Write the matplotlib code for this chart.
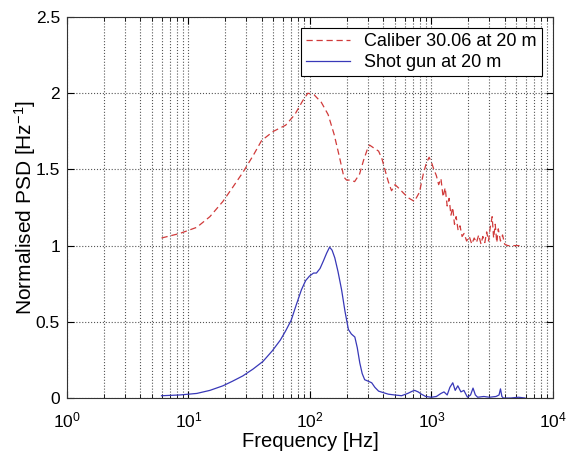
import numpy as np
import matplotlib
matplotlib.use('Agg')
import matplotlib.pyplot as plt
from matplotlib.ticker import LogLocator, NullFormatter

plt.rcParams['font.family'] = ['Liberation Sans', 'DejaVu Sans']
plt.rcParams['mathtext.fontset'] = 'custom'
plt.rcParams['mathtext.rm'] = 'Liberation Sans'
plt.rcParams['mathtext.it'] = 'Liberation Sans:italic'
plt.rcParams['mathtext.default'] = 'rm'

# Caliber 30.06 at 20 m
cal_freq = [6.0, 8.5, 11.7, 15, 19.2, 23, 28, 34, 40, 50, 63, 75, 87, 96, 108, 124, 141, 158,
            175, 190, 200, 216, 233, 256, 276, 296, 309, 336, 367, 391, 413, 441, 469, 501, 533,
            596, 656, 723, 796, 856, 906, 956, 996, 1046, 1096, 1146, 1196, 1246, 1296, 1346,
            1396, 1446, 1496, 1546, 1596, 1656, 1716, 1786, 1856, 1946, 2046, 2146, 2246, 2346,
            2446, 2556, 2646, 2746, 2846, 2946, 3046, 3156, 3246, 3346, 3446, 3546, 3696, 3846,
            3996, 4236, 4596, 4996, 5596]
cal_psd = [1.05, 1.08, 1.12, 1.19, 1.29, 1.38, 1.48, 1.59, 1.69, 1.75, 1.79, 1.86, 1.95, 2.0,
           1.99, 1.94, 1.86, 1.73, 1.58, 1.45, 1.43, 1.43, 1.42, 1.47, 1.56, 1.63, 1.66, 1.64,
           1.62, 1.57, 1.50, 1.42, 1.36, 1.40, 1.38, 1.34, 1.31, 1.29, 1.35, 1.47, 1.54, 1.58,
           1.55, 1.50, 1.46, 1.40, 1.44, 1.32, 1.38, 1.26, 1.31, 1.20, 1.25, 1.14, 1.19, 1.10,
           1.13, 1.06, 1.08, 1.03, 1.06, 1.01, 1.05, 1.02, 1.07, 1.01, 1.06, 1.02, 1.09, 1.03,
           1.12, 1.19, 1.05, 1.14, 1.02, 1.11, 1.03, 1.07, 1.01, 1.0, 1.0, 1.0, 1.0]

# Shot gun at 20 m
gun_freq = [6.0, 8.5, 11.7, 15, 19.2, 23, 28, 34, 41, 49, 57, 63, 70, 77, 85, 92, 99, 107, 113,
            121, 129, 137, 145, 152, 160, 170, 182, 194, 207, 219, 234, 245, 257, 269, 282, 302,
            322, 342, 367, 402, 442, 497, 567, 637, 697, 727, 777, 827, 897, 997, 1097, 1197,
            1267, 1347, 1417, 1497, 1567, 1647, 1747, 1847, 1977, 2097, 2197, 2297, 2397, 2697,
            2997, 3397, 3597, 3697, 3797, 3897, 4497, 5197, 5897]
gun_psd = [0.015, 0.02, 0.03, 0.05, 0.08, 0.11, 0.145, 0.19, 0.24, 0.31, 0.38, 0.44, 0.51,
           0.61, 0.71, 0.77, 0.80, 0.82, 0.82, 0.85, 0.90, 0.95, 0.99, 0.97, 0.92, 0.83, 0.71,
           0.57, 0.45, 0.42, 0.40, 0.33, 0.23, 0.16, 0.12, 0.11, 0.10, 0.07, 0.045, 0.035, 0.025,
           0.02, 0.015, 0.03, 0.045, 0.05, 0.04, 0.025, 0.01, 0.005, 0.01, 0.03, 0.04, 0.02,
           0.07, 0.10, 0.05, 0.08, 0.04, 0.05, 0.005, 0.02, 0.065, 0.02, 0.005, 0.01, 0.005,
           0.01, 0.02, 0.06, 0.01, 0.0, 0.0, 0.005, 0.0]

fig = plt.figure(figsize=(5.74, 4.53), dpi=100)
ax = fig.add_axes([0.1167, 0.1214, 0.8467, 0.841])

ax.semilogx(cal_freq, cal_psd, '--', color='#d03a3a', lw=0.9, dashes=(5, 3),
            label='Caliber 30.06 at 20 m')
ax.semilogx(gun_freq, gun_psd, '-', color='#3838b8', lw=0.9, label='Shot gun at 20 m')

ax.set_xlim(1, 1e4)
ax.set_ylim(0, 2.5)
ax.set_yticks([0, 0.5, 1, 1.5, 2, 2.5])
ax.set_yticklabels(['0', '0.5', '1', '1.5', '2', '2.5'])
ax.xaxis.set_major_locator(LogLocator(base=10, numticks=10))
ax.xaxis.set_minor_locator(LogLocator(base=10, subs=np.arange(2, 10), numticks=50))
ax.xaxis.set_minor_formatter(NullFormatter())

ax.grid(True, which='major', linestyle=':', color='#555555', lw=0.8)
ax.grid(True, which='minor', axis='x', linestyle=':', color='#555555', lw=0.8)
ax.tick_params(which='both', direction='in', top=True, right=True, labelsize=12.5)
ax.tick_params(axis='x', which='major', pad=9)
ax.tick_params(axis='y', pad=5)
ax.tick_params(which='major', length=5)
ax.tick_params(which='minor', length=3)
for s in ax.spines.values():
    s.set_color('#333333')
    s.set_linewidth(0.8)

ax.set_xlabel('Frequency [Hz]', fontsize=14.5)
ax.xaxis.set_label_coords(0.5, -0.09)
ax.set_ylabel('Normalised PSD [Hz$^{-1}$]', fontsize=15)
ax.yaxis.set_label_coords(-0.06, 0.5)

leg = ax.legend(loc='upper right', fontsize=13, fancybox=False, edgecolor='black',
                framealpha=1, borderaxespad=0.6, handlelength=2.4, borderpad=0.3,
                labelspacing=0.2)
leg.get_frame().set_linewidth(0.8)

fig.savefig('out.png', dpi=100)
